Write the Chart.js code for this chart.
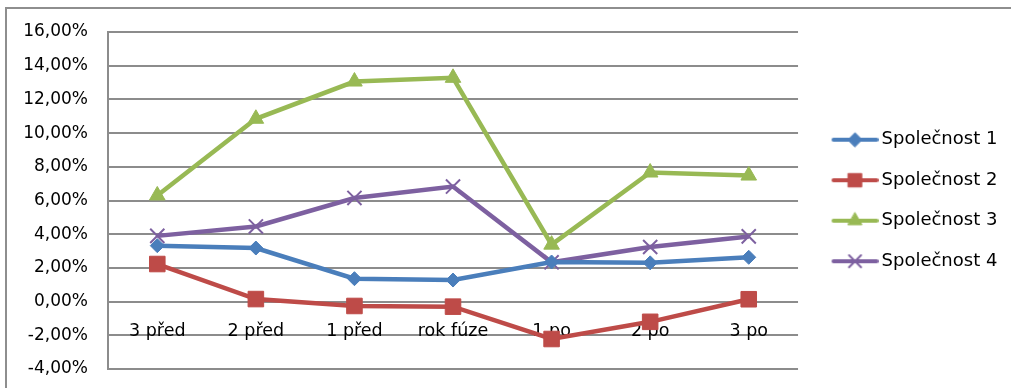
<!DOCTYPE html>
<html>
<head>
<meta charset="utf-8">
<script src="https://cdn.jsdelivr.net/npm/chart.js@4.4.1/dist/chart.umd.min.js"></script>
<style>
  html, body { margin: 0; padding: 0; background: #fff; overflow: hidden; width: 1011px; height: 388px; }
  #c { display: block; }
</style>
</head>
<body>
<canvas id="c" width="1011" height="388"></canvas>
<script>
// Období kolem fúze
const categories = ['3 před', '2 před', '1 před', 'rok fúze', '1 po', '2 po', '3 po'];

// Hodnoty v procentech
const spolecnost1 = [3.32, 3.18, 1.36, 1.28, 2.35, 2.30, 2.63];
const spolecnost2 = [2.23, 0.15, -0.26, -0.30, -2.22, -1.20, 0.14];
const spolecnost3 = [6.30, 10.85, 13.06, 13.28, 3.38, 7.66, 7.48];
const spolecnost4 = [3.90, 4.46, 6.15, 6.83, 2.33, 3.24, 3.87];

const seriesNames = ['Společnost 1', 'Společnost 2', 'Společnost 3', 'Společnost 4'];

const FONT = 'DejaVu Sans';
const GRID = '#8c8c8c';

const styles = [
  { color: '#4a7ebb', point: 'rectRot',  radius: 7,  legendRadius: 7,   border: 1 },
  { color: '#be4b48', point: 'rect',     radius: 11, legendRadius: 9.5, border: 1 },
  { color: '#98b954', point: 'triangle', radius: 9,  legendRadius: 8,   border: 1 },
  { color: '#7d60a0', point: 'crossRot', radius: 10, legendRadius: 8.5, border: 2 }
];

// Legend symbol: short line with the series marker in the middle
function legendIcon(st) {
  const cv = document.createElement('canvas');
  cv.width = 64; cv.height = 20;
  const g = cv.getContext('2d');
  g.strokeStyle = st.color;
  g.lineWidth = 4;
  g.lineCap = 'round';
  g.beginPath();
  g.moveTo(19, 10);
  g.lineTo(62, 10);
  g.stroke();
  g.fillStyle = st.color;
  g.strokeStyle = st.color;
  g.lineWidth = st.border;
  Chart.helpers.drawPoint(g, { pointStyle: st.point, radius: st.legendRadius, borderWidth: st.border, rotation: 0 }, 40.5, 10);
  return cv;
}

// White background and the outer frame of the chart object (left and top edges)
const chartFrame = {
  id: 'chartFrame',
  beforeDraw(chart) {
    const ctx = chart.ctx;
    ctx.save();
    ctx.fillStyle = '#fff';
    ctx.fillRect(0, 0, chart.width, chart.height);
    ctx.strokeStyle = '#8e8e8e';
    ctx.lineWidth = 2;
    ctx.beginPath();
    ctx.moveTo(6, chart.height + 2);
    ctx.lineTo(6, 8);
    ctx.lineTo(chart.width + 2, 8);
    ctx.stroke();
    ctx.restore();
  }
};

const values = [spolecnost1, spolecnost2, spolecnost3, spolecnost4];
const datasets = values.map((data, i) => {
  const st = styles[i];
  return {
    label: seriesNames[i],
    data: data,
    borderColor: st.color,
    backgroundColor: st.color,
    borderWidth: 4.5,
    tension: 0,
    fill: false,
    pointStyle: st.point,
    pointRadius: st.radius,
    pointBackgroundColor: st.color,
    pointBorderColor: st.color,
    pointBorderWidth: st.border
  };
});

const icons = styles.map(legendIcon);

new Chart(document.getElementById('c'), {
  type: 'line',
  data: { labels: categories, datasets: datasets },
  plugins: [chartFrame],
  options: {
    responsive: false,
    animation: false,
    layout: { padding: { top: 32, bottom: 19, left: 0, right: 3.6 } },
    plugins: {
      tooltip: { enabled: false },
      legend: {
        position: 'right',
        align: 'center',
        labels: {
          usePointStyle: true,
          pointStyleWidth: 52,
          padding: 22.5,
          color: '#000',
          font: { family: FONT, size: 18 },
          generateLabels: (chart) =>
            Chart.defaults.plugins.legend.labels.generateLabels(chart)
              .map((item, i) => Object.assign(item, { pointStyle: icons[i] }))
        }
      }
    },
    scales: {
      x: {
        type: 'category',
        offset: true,
        position: { y: 0 },
        grid: { display: false },
        border: { display: false },
        ticks: { color: '#000', font: { family: FONT, size: 17.5 }, padding: 11, maxRotation: 0 },
        afterFit: (s) => { s.height = 0; }
      },
      y: {
        min: -4,
        max: 16,
        ticks: {
          stepSize: 2,
          padding: 20,
          color: '#000',
          font: { family: FONT, size: 17 },
          callback: (v) => v.toFixed(2).replace('.', ',') + '%'
        },
        grid: { color: GRID, lineWidth: 2, drawTicks: false },
        border: { color: GRID, width: 2 },
        afterFit: (s) => {
          s.width = 108;
          s.paddingTop = 0;
          s.paddingBottom = 0;
        }
      }
    }
  }
});
</script>
</body>
</html>
